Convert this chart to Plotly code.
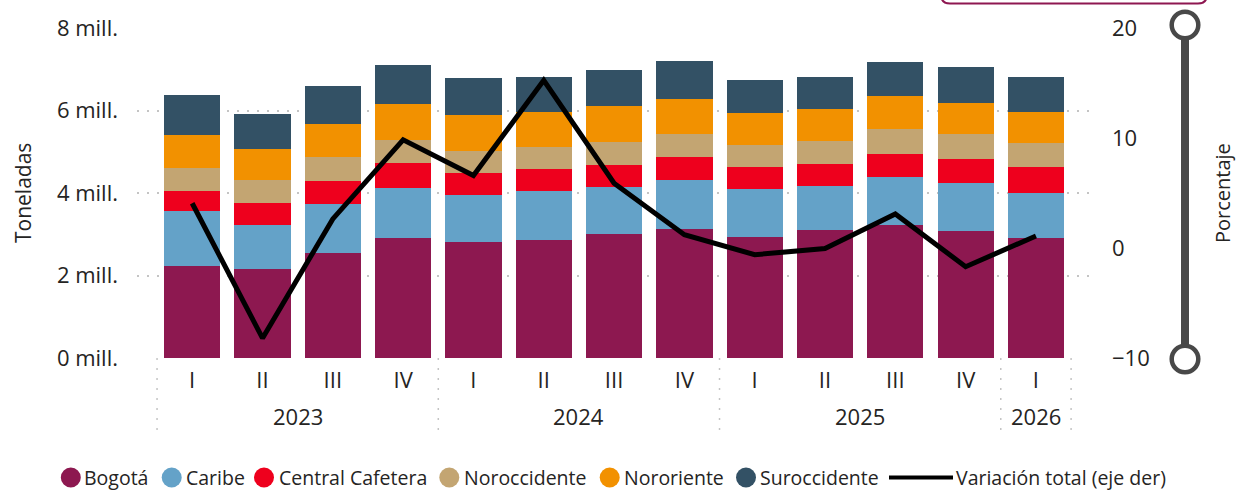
import plotly.graph_objects as go

# ---------------- data ----------------
years = ["2023"] * 4 + ["2024"] * 4 + ["2025"] * 4 + ["2026"]
quarters = ["I", "II", "III", "IV", "I", "II", "III", "IV", "I", "II", "III", "IV", "I"]

# toneladas (millones)
bogota = [2.23, 2.15, 2.54, 2.91, 2.81, 2.86, 3.00, 3.13, 2.93, 3.10, 3.22, 3.08, 2.91]
caribe = [1.33, 1.07, 1.19, 1.21, 1.14, 1.19, 1.15, 1.18, 1.17, 1.07, 1.17, 1.16, 1.09]
central_cafetera = [0.49, 0.54, 0.56, 0.61, 0.54, 0.53, 0.53, 0.56, 0.53, 0.54, 0.56, 0.59, 0.63]
noroccidente = [0.56, 0.56, 0.58, 0.56, 0.53, 0.54, 0.56, 0.56, 0.53, 0.55, 0.61, 0.60, 0.58]
nororiente = [0.80, 0.75, 0.81, 0.87, 0.88, 0.85, 0.87, 0.85, 0.78, 0.78, 0.80, 0.76, 0.76]
suroccidente = [0.97, 0.85, 0.92, 0.95, 0.89, 0.85, 0.88, 0.93, 0.80, 0.78, 0.82, 0.87, 0.85]

# variación total (%)
variacion = [4.07, -8.2, 2.64, 9.84, 6.59, 15.25, 5.89, 1.21, -0.61, -0.05, 3.10, -1.70, 1.09]

series_names = ["Bogotá", "Caribe", "Central Cafetera", "Noroccidente", "Nororiente", "Suroccidente"]
series_values = [bogota, caribe, central_cafetera, noroccidente, nororiente, suroccidente]
line_name = "Variación total (eje der)"

left_tickvals = [0, 2e6, 4e6, 6e6, 8e6]
left_ticktext = ["0 mill.", "2 mill.", "4 mill.", "6 mill.", "8 mill."]
right_tickvals = [-10, 0, 10, 20]

# ---------------- style ----------------
colors = ["#8D1850", "#64A2C8", "#EE001D", "#C3A572", "#F29100", "#335165"]
FONT = "Segoe UI, Open Sans, Noto Sans, sans-serif"
TXT = "#252423"
W_FIG, H_FIG = 1236, 492
L, R, T, B = 137, 1095, 28, 358
PW, PH = R - L, B - T


def px(x):
    return (x - L) / PW


def py(y):
    return (B - y) / PH


cats = [f"{q} {y}" for q, y in zip(quarters, years)]

fig = go.Figure()
for name, vals, col in zip(series_names, series_values, colors):
    fig.add_trace(go.Bar(
        x=cats, y=[v * 1e6 for v in vals], name=name,
        marker=dict(color=col, line=dict(width=0)),
        showlegend=False,
    ))

fig.add_trace(go.Scatter(
    x=cats, y=variacion, name=line_name, yaxis="y2", mode="lines",
    line=dict(color="black", width=5), showlegend=False,
))

n = len(cats)
fig.update_layout(
    width=W_FIG, height=H_FIG,
    margin=dict(l=L, r=W_FIG - R, t=T, b=H_FIG - B, pad=0),
    paper_bgcolor="white", plot_bgcolor="white",
    barmode="stack", bargap=0.2,
    font=dict(family=FONT, size=22, color=TXT),
    xaxis=dict(
        type="category", range=[-0.785, n - 0.5 + 0.34],
        tickmode="array", tickvals=cats, ticktext=quarters,
        showgrid=False, zeroline=False, showline=False, ticks="",
        tickfont=dict(size=22, color=TXT), ticklabelstandoff=7,
    ),
    yaxis=dict(
        range=[0, 8e6], tickmode="array", tickvals=left_tickvals, ticktext=left_ticktext,
        showgrid=True, gridcolor="#c4c4c4", gridwidth=1.5, griddash="2px,8px",
        zeroline=False, showline=False, ticks="",
        tickfont=dict(size=22, color=TXT), ticklabelstandoff=18,
    ),
    yaxis2=dict(
        range=[-10, 20], overlaying="y", side="right",
        tickmode="array", tickvals=right_tickvals,
        showgrid=False, zeroline=False, showline=False, ticks="",
        tickfont=dict(size=22, color=TXT), ticklabelstandoff=16,
    ),
)

shapes = []
annotations = []

# year dividers and labels
groups = []
for i, y in enumerate(years):
    if not groups or groups[-1][0] != y:
        groups.append([y, i, i])
    else:
        groups[-1][2] = i
bounds = [-0.5] + [g[2] + 0.5 for g in groups]
for b in bounds:
    shapes.append(dict(type="line", xref="x", yref="paper", x0=b, x1=b, y0=0, y1=py(436),
                       line=dict(color="#c4c4c4", width=1.5, dash="2px,8px")))
for y, i0, i1 in groups:
    annotations.append(dict(x=(i0 + i1) / 2, y=py(416), xref="x", yref="paper", text=y,
                            showarrow=False, xanchor="center", yanchor="middle",
                            font=dict(size=22, color=TXT)))

# axis titles
annotations.append(dict(x=px(23), y=py(193), xref="paper", yref="paper", text="Toneladas",
                        textangle=-90, showarrow=False, xanchor="center", yanchor="middle",
                        font=dict(size=21, color=TXT), borderpad=0))
annotations.append(dict(x=px(1222), y=py(193), xref="paper", yref="paper", text="Porcentaje",
                        textangle=-90, showarrow=False, xanchor="center", yanchor="middle",
                        font=dict(size=20, color=TXT), borderpad=0))

# custom legend
leg_y = 477.5
marker_x = [70.8, 171.7, 264.0, 449.3, 609.7, 746.0]
text_x = [82.5, 184.5, 277.5, 462.5, 622.5, 758.5]
r = 10
for name, col, mx, tx in zip(series_names, colors, marker_x, text_x):
    shapes.append(dict(type="circle", xref="paper", yref="paper",
                       x0=px(mx - r), x1=px(mx + r), y0=py(leg_y + r), y1=py(leg_y - r),
                       fillcolor=col, line=dict(width=0)))
    annotations.append(dict(x=px(tx), y=py(leg_y), xref="paper", yref="paper", text=name,
                            showarrow=False, xanchor="left", yanchor="middle",
                            font=dict(size=19.5, color=TXT), borderpad=0))
shapes.append(dict(type="line", xref="paper", yref="paper", x0=px(889), x1=px(953),
                   y0=py(leg_y), y1=py(leg_y), line=dict(color="black", width=4)))
annotations.append(dict(x=px(955), y=py(leg_y), xref="paper", yref="paper", text=line_name,
                        showarrow=False, xanchor="left", yanchor="middle",
                        font=dict(size=19.5, color=TXT), borderpad=0))

# right-hand zoom slider
sx = 1185
shapes.append(dict(type="line", xref="paper", yref="paper", x0=px(sx), x1=px(sx),
                   y0=py(38), y1=py(346), line=dict(color="#484848", width=8)))
for cy in [25, 359]:
    cr = 13.3
    shapes.append(dict(type="circle", xref="paper", yref="paper",
                       x0=px(sx - cr), x1=px(sx + cr), y0=py(cy + cr), y1=py(cy - cr),
                       fillcolor="white", line=dict(color="#484848", width=4.5)))

# top box (partially visible)
bx0, bx1, by, rad = 941, 1207, 3.5, 9
path = (f"M {px(bx0)},{py(-30)} L {px(bx0)},{py(by - rad)} "
        f"Q {px(bx0)},{py(by)} {px(bx0 + rad)},{py(by)} "
        f"L {px(bx1 - rad)},{py(by)} "
        f"Q {px(bx1)},{py(by)} {px(bx1)},{py(by - rad)} "
        f"L {px(bx1)},{py(-30)}")
shapes.append(dict(type="path", xref="paper", yref="paper", path=path,
                   line=dict(color="#8E1751", width=2)))

fig.update_layout(shapes=shapes, annotations=annotations)
fig.write_html(
    "out.html",
    config={"displayModeBar": False},
    post_script="document.body.style.margin='0';document.body.style.overflow='hidden';",
)
